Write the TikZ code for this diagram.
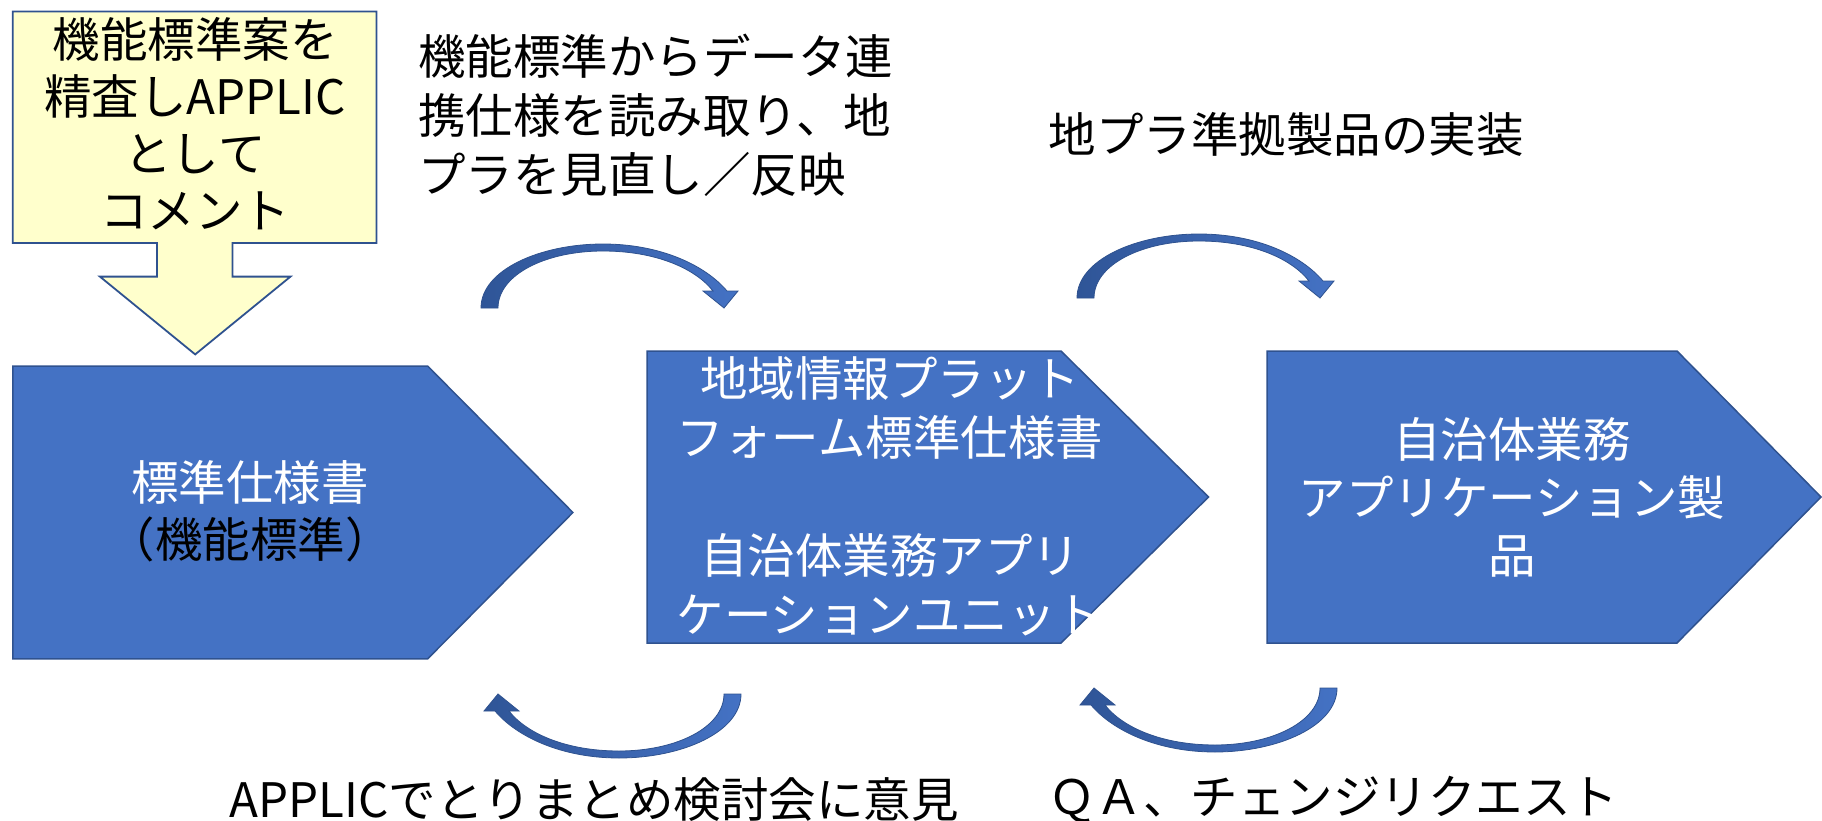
\documentclass[tikz,border=0pt]{standalone}
\usepackage{fontspec}
\setmainfont{Noto Sans CJK JP}
\definecolor{pblue}{HTML}{4472C4}
\definecolor{pline}{HTML}{2F528F}
\definecolor{pyellow}{HTML}{FFFFCC}
\definecolor{adark}{HTML}{2F5597}
\begin{document}
\begin{tikzpicture}[x=1pt,y=-1pt,
  penta/.style={fill=pblue, draw=pline, line width=1.5pt, line join=miter},
  yarrow/.style={fill=pyellow, draw=pline, line width=1.8pt},
  lbl/.style={inner sep=0pt, align=center, font=\fontsize{47.5}{57}\selectfont},
  wlbl/.style={lbl, text=white},
  curvarrow/.pic={
    \path[left color=adark, right color=pblue, draw=pline, line width=0.8pt]
      (0,0) .. controls (0,-38) and (59,-64) .. (122,-64)
      .. controls (179,-64) and (224,-43) .. (246,-17)
      -- (257,-17) -- (243,0) -- (222,-17) -- (232,-17)
      .. controls (214,-40) and (174,-57) .. (122,-57)
      .. controls (64,-57) and (17,-33) .. (17,0) -- cycle;
  }]
\useasboundingbox (0,0) rectangle (1822,821);

% yellow block arrow
\draw[yarrow] (12.8,11.6) -- (376.5,11.6) -- (376.5,242.9) -- (232.4,242.9)
  -- (232.4,276.6) -- (290.5,276.6) -- (195.2,354.4) -- (99.9,276.6)
  -- (156.9,276.6) -- (156.9,242.9) -- (12.8,242.9) -- cycle;
\node[lbl] (ytext) at (195,124)
  {機能標準案を\\精査しAPPLIC\\として\\コメント};

% pentagons
\draw[penta] (12.8,366) -- (427.6,366) -- (572.9,512.5) -- (427.6,658.9) -- (12.8,658.9) -- cycle;
\draw[penta] (647,351) -- (1061,351) -- (1208.5,497) -- (1061,643) -- (647,643) -- cycle;
\draw[penta] (1267,351) -- (1677,351) -- (1821,497) -- (1677,643) -- (1267,643) -- cycle;

\node[lbl] (p1text) at (250,511) {\textcolor{white}{標準仕様書}\\（機能標準）};
\node[wlbl, font=\fontsize{47.5}{59}\selectfont] (p2text) at (890,496)
  {地域情報プラット\\フォーム標準仕様書\\[0pt]\mbox{}\\自治体業務アプリ\\ケーションユニット};
\node[wlbl, font=\fontsize{47.5}{58}\selectfont] (p3text) at (1512,497)
  {自治体業務\\アプリケーション製\\品};

% curved arrows
\pic at (481,308) {curvarrow};
\pic at (1077,298) {curvarrow};
\pic[rotate=180] at (741,694) {curvarrow};
\pic[rotate=180] at (1337,688) {curvarrow};

% labels
\node[lbl, align=left, anchor=west, font=\fontsize{47.5}{59}\selectfont] (tl) at (418,115)
  {機能標準からデータ連\\携仕様を読み取り、地\\プラを見直し／反映};
\node[lbl] (tr) at (1286,134) {地プラ準拠製品の実装};
\node[lbl] (bl) at (594,800) {APPLICでとりまとめ検討会に意見};
\node[lbl] (br) at (1333,800) {ＱＡ、チェンジリクエスト};
\end{tikzpicture}
\end{document}
